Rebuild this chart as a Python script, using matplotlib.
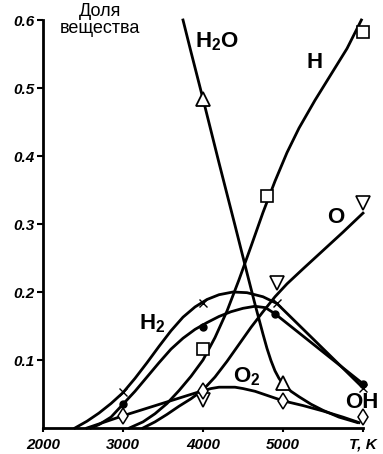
import numpy as np
import matplotlib.pyplot as plt

# curves (T in K, fraction)
h2o_t = [3750, 3850, 4000, 4200, 4400, 4550, 4650, 4700, 4750, 4800, 4850, 4900, 4950, 5000, 5100, 5200, 5350, 5500, 5700, 5930]
h2o_y = [0.6, 0.553, 0.484, 0.39, 0.298, 0.228, 0.182, 0.16, 0.138, 0.117, 0.099, 0.084, 0.073, 0.065, 0.054, 0.046, 0.035, 0.026, 0.016, 0.008]

h_t = [3080, 3250, 3400, 3550, 3700, 3850, 4000, 4150, 4300, 4450, 4600, 4750, 4900, 5050, 5200, 5400, 5600, 5800, 5980]
h_y = [0.0, 0.009, 0.021, 0.036, 0.055, 0.076, 0.1, 0.133, 0.172, 0.218, 0.267, 0.317, 0.363, 0.405, 0.441, 0.482, 0.52, 0.558, 0.6]

o_t = [3250, 3400, 3550, 3700, 3850, 4000, 4150, 4300, 4450, 4600, 4750, 4900, 5050, 5250, 5500, 5750, 6000]
o_y = [0.0, 0.009, 0.02, 0.032, 0.043, 0.056, 0.075, 0.098, 0.123, 0.148, 0.171, 0.193, 0.212, 0.234, 0.261, 0.288, 0.316]

h2_t = [2400, 2550, 2700, 2850, 3000, 3150, 3300, 3450, 3600, 3750, 3900, 4050, 4200, 4375, 4550, 4750, 4925, 6000]
h2_y = [0.0, 0.01, 0.022, 0.036, 0.052, 0.073, 0.096, 0.12, 0.143, 0.163, 0.178, 0.189, 0.196, 0.2, 0.199, 0.193, 0.183, 0.059]

oh_t = [2600, 2700, 2850, 3000, 3150, 3300, 3450, 3600, 3750, 3900, 4050, 4200, 4350, 4500, 4650, 4780, 4900, 6000]
oh_y = [0.0, 0.005, 0.016, 0.035, 0.054, 0.075, 0.096, 0.116, 0.132, 0.145, 0.155, 0.164, 0.171, 0.176, 0.179, 0.177, 0.168, 0.065]

o2_t = [2550, 3000, 4000, 4100, 4200, 4300, 4400, 4500, 4650, 4800, 5000, 5250, 5500, 5750, 5950]
o2_y = [0.0, 0.018, 0.055, 0.058, 0.06, 0.06, 0.06, 0.058, 0.054, 0.048, 0.04, 0.033, 0.025, 0.016, 0.008]

# markers
h2o_mt = [4000, 5000]
h2o_my = [0.484, 0.066]
h_mt = [4000, 4800, 6000]
h_my = [0.116, 0.341, 0.582]
o_mt = [4000, 4925, 6000]
o_my = [0.041, 0.213, 0.331]
h2_mt = [3000, 4000, 4925, 6000]
h2_my = [0.053, 0.184, 0.184, 0.059]
oh_mt = [3000, 4000, 4900, 6000]
oh_my = [0.035, 0.149, 0.168, 0.065]
o2_mt = [3000, 4000, 5000, 6000]
o2_my = [0.018, 0.055, 0.04, 0.016]

yticks = [0.1, 0.2, 0.3, 0.4, 0.5, 0.6]
ytick_labels = ['0.1', '0.2', '0.3', '0.4', '0.5', '0.6']
xticks = [2000, 3000, 4000, 5000, 6000]
xtick_labels = ['2000', '3000', '4000', '5000', 'T, K']

plt.rcParams['font.family'] = ['Liberation Sans', 'DejaVu Sans']
plt.rcParams['mathtext.fontset'] = 'custom'
plt.rcParams['mathtext.rm'] = 'Liberation Sans:bold'
plt.rcParams['mathtext.it'] = 'Liberation Sans:bold'

fig = plt.figure(figsize=(3.83, 4.54), dpi=100)
ax = fig.add_axes([43/383, 26/454, 320/383, 408/454])

lw = 2.0
for t, y in [(h2o_t, h2o_y), (h_t, h_y), (o_t, o_y), (h2_t, h2_y), (oh_t, oh_y), (o2_t, o2_y)]:
    ax.plot(t, y, color='black', lw=lw, solid_joinstyle='round', clip_on=False)

mk = dict(color='black', ls='none', clip_on=False, zorder=5)
ax.plot(h2o_mt, h2o_my, marker='^', ms=10, mfc='white', mew=1.3, **mk)
ax.plot(h_mt, h_my, marker='s', ms=9, mfc='white', mew=1.2, **mk)
ax.plot(o_mt, o_my, marker='v', ms=10, mfc='white', mew=1.2, **mk)
ax.plot(h2_mt, h2_my, marker='x', ms=6, mew=1.0, **mk)
ax.plot(oh_mt, oh_my, marker='o', ms=5, mfc='black', **mk)
ax.plot(o2_mt, o2_my, marker='d', ms=8, mfc='white', mew=1.1, **mk)

ax.set_xlim(2000, 6000)
ax.set_ylim(0, 0.6)
ax.set_yticks(yticks)
ax.set_yticklabels(ytick_labels)
ax.set_xticks(xticks)
ax.set_xticklabels(xtick_labels)
for lab in ax.get_xticklabels() + ax.get_yticklabels():
    lab.set_fontweight('bold')
    lab.set_fontstyle('italic')
    lab.set_fontsize(11)
ax.tick_params(axis='y', direction='out', length=4, width=1.5, pad=2)
ax.tick_params(axis='x', direction='out', length=3, width=1.5, pad=4)

for s in ['top', 'right']:
    ax.spines[s].set_visible(False)
for s in ['left', 'bottom']:
    ax.spines[s].set_linewidth(2)

# curve labels
lab = dict(fontsize=16, fontweight='bold', ha='center', va='center')
ax.text(4170, 0.568, r'H$_\mathregular{2}$O', **lab)
ax.text(5390, 0.537, 'H', **lab)
ax.text(5663, 0.31, 'O', **lab)
ax.text(3370, 0.154, r'H$_\mathregular{2}$', **lab)
ax.text(4550, 0.075, r'O$_\mathregular{2}$', **lab)
ax.text(5990, 0.037, 'OH', clip_on=False, **lab)

fig.text(100/383, 1 - 20/454, 'Доля\nвещества', fontsize=13, ha='center',
         va='center', linespacing=0.95)

fig.savefig('out.png', dpi=100)
